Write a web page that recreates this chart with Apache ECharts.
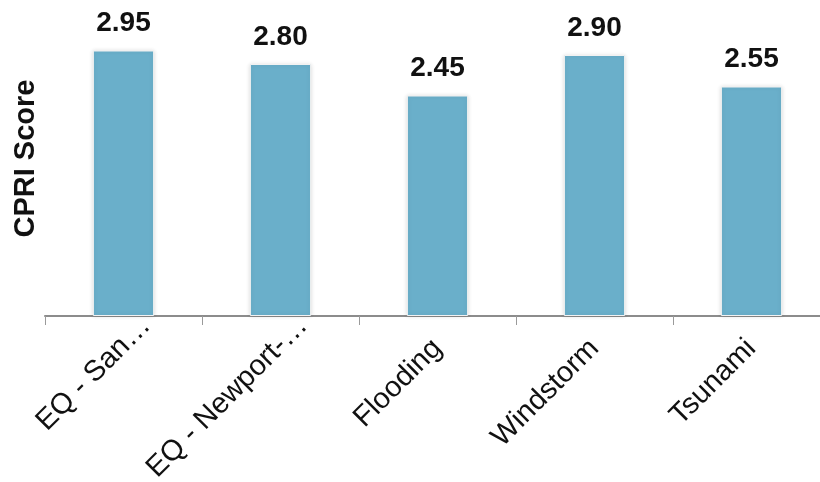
<!DOCTYPE html>
<html>
<head>
<meta charset="utf-8">
<script src="https://cdn.jsdelivr.net/npm/echarts@6/dist/echarts.min.js"></script>
<style>
  html, body { margin: 0; padding: 0; background: #fff; }
  #chart { width: 820px; height: 482px; }
</style>
</head>
<body>
<div id="chart"></div>
<script>
// Hazard categories and their CPRI scores
const categories = ['EQ - San…', 'EQ - Newport-…', 'Flooding', 'Windstorm', 'Tsunami'];
const scores = [2.95, 2.80, 2.45, 2.90, 2.55];

const chart = echarts.init(document.getElementById('chart'), null, { renderer: 'canvas' });

// Shortened names sit further along their slant than the full ones
const axisData = categories.map(name => name.endsWith('…')
  ? { value: name, textStyle: { padding: [0, -32, 0, 0] } }
  : name);

chart.setOption({
  animation: false,
  backgroundColor: '#ffffff',
  grid: {
    left: 45, width: 785, top: 1, height: 315,
    containLabel: false,
    outerBoundsMode: 'none'
  },
  xAxis: {
    type: 'category',
    data: axisData,
    boundaryGap: true,
    axisLine: { show: true, lineStyle: { color: '#8c8c8c', width: 2 } },
    axisTick: { show: true, alignWithLabel: false, length: 9, lineStyle: { color: '#9a9a9a', width: 1 } },
    axisLabel: {
      rotate: 45,
      margin: 28,
      color: '#111',
      fontFamily: 'Liberation Sans, Arial, sans-serif',
      fontSize: 29
    }
  },
  yAxis: {
    type: 'value',
    min: 0,
    max: 3.5,
    name: 'CPRI Score',
    nameLocation: 'middle',
    nameGap: 5,
    nameTextStyle: {
      color: '#111',
      fontFamily: 'Liberation Sans, Arial, sans-serif',
      fontSize: 29,
      fontWeight: 'bold'
    },
    axisLine: { show: false },
    axisTick: { show: false },
    axisLabel: { show: false },
    splitLine: { show: false }
  },
  series: [{
    type: 'bar',
    data: scores,
    barWidth: '39%',
    itemStyle: {
      color: '#6aafca',
      borderColor: '#f2f2f2',
      borderWidth: 1,
      shadowColor: 'rgba(0,0,0,0.12)',
      shadowBlur: 4,
      shadowOffsetX: 0,
      shadowOffsetY: 0
    },
    label: {
      show: true,
      position: 'top',
      distance: 13,
      color: '#111',
      fontFamily: 'Liberation Sans, Arial, sans-serif',
      fontSize: 28,
      fontWeight: 'bold',
      formatter: p => p.value.toFixed(2)
    }
  }]
});
</script>
</body>
</html>
